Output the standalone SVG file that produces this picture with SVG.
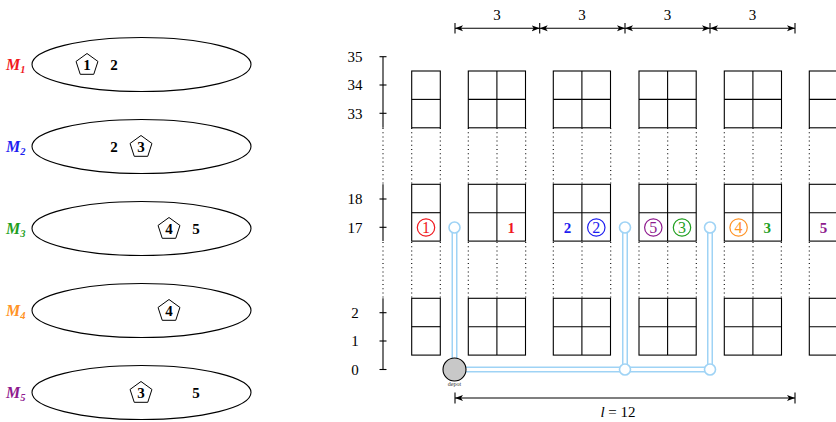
<svg xmlns="http://www.w3.org/2000/svg" width="836" height="422" viewBox="0 0 836 422">
<style>
.e{fill:none;stroke:#000;stroke-width:1.1}
.pg{fill:#fff;stroke:#000;stroke-width:1}
.n{font-family:"Liberation Serif","DejaVu Serif",serif;font-size:15px;font-weight:bold;text-anchor:middle}
.ax{font-family:"Liberation Serif","DejaVu Serif",serif;font-size:15px;text-anchor:middle}
.m{font-family:"Liberation Serif","DejaVu Serif",serif;font-size:16px;font-weight:bold;font-style:italic}
.cell{fill:#fff;stroke:#000;stroke-width:1.1}
.dot{stroke:#000;stroke-width:1.1;stroke-dasharray:1 3.2;fill:none}
.ln{stroke:#000;stroke-width:1.1;fill:none}
.pO{stroke:#9fd3f5;stroke-width:6;fill:none}
.pI{stroke:#fff;stroke-width:3;fill:none}
.ec{fill:#fff;stroke:#9fd3f5;stroke-width:1.6}
.cn{font-family:"Liberation Serif","DejaVu Serif",serif;font-size:16px;text-anchor:middle}
.red{fill:#f0181e;stroke:#f0181e}
.blue{fill:#1e1ef0;stroke:#1e1ef0}
.green{fill:#1f9f1f;stroke:#1f9f1f}
.orange{fill:#ff9326;stroke:#ff9326}
.purple{fill:#8e1a8e;stroke:#8e1a8e}
text.red,text.blue,text.green,text.orange,text.purple{stroke:none}
circle.cc{fill:none;stroke-width:1.2}
</style>
<defs>
<marker id="ar" viewBox="0 0 8 8" refX="8" refY="4" markerWidth="8" markerHeight="8" markerUnits="userSpaceOnUse" orient="auto-start-reverse">
<path d="M0,1 L8,4 L0,7 L2,4 Z" fill="#000"/>
</marker>
<polygon id="pent" points="0,-11.5 10.94,-3.55 6.76,9.3 -6.76,9.3 -10.94,-3.55"/>
<g id="r1">
<rect x="0" y="0" width="28.6" height="56.8" class="cell"/>
<line x1="0" y1="28.4" x2="28.6" y2="28.4" class="ln"/>
</g>
<g id="r2">
<rect x="0" y="0" width="57.2" height="56.8" class="cell"/>
<line x1="0" y1="28.4" x2="57.2" y2="28.4" class="ln"/>
<line x1="28.6" y1="0" x2="28.6" y2="56.8" class="ln" stroke-width="1.5"/>
</g>
</defs>

<!-- Left: sets M1..M5 -->
<g id="M1">
<ellipse cx="141.5" cy="64.5" rx="109.5" ry="27" class="e"/>
<text x="6" y="69.5" class="m red">M<tspan font-size="10.5" dy="3">1</tspan></text>
<use href="#pent" x="87" y="65" class="pg"/>
<text x="87" y="70" class="n">1</text>
<text x="114" y="70" class="n">2</text>
</g>
<g id="M2">
<ellipse cx="141.5" cy="146.5" rx="109.5" ry="27" class="e"/>
<text x="6" y="151.5" class="m blue">M<tspan font-size="10.5" dy="3">2</tspan></text>
<text x="114" y="152" class="n">2</text>
<use href="#pent" x="141" y="147" class="pg"/>
<text x="141" y="152" class="n">3</text>
</g>
<g id="M3">
<ellipse cx="141.5" cy="228.5" rx="109.5" ry="27" class="e"/>
<text x="6" y="233.5" class="m green">M<tspan font-size="10.5" dy="3">3</tspan></text>
<use href="#pent" x="169" y="229" class="pg"/>
<text x="169" y="234" class="n">4</text>
<text x="196" y="234" class="n">5</text>
</g>
<g id="M4">
<ellipse cx="141.5" cy="310.5" rx="109.5" ry="27" class="e"/>
<text x="6" y="315.5" class="m orange">M<tspan font-size="10.5" dy="3">4</tspan></text>
<use href="#pent" x="169" y="311" class="pg"/>
<text x="169" y="316" class="n">4</text>
</g>
<g id="M5">
<ellipse cx="141.5" cy="392.5" rx="109.5" ry="27" class="e"/>
<text x="6" y="397.5" class="m purple">M<tspan font-size="10.5" dy="3">5</tspan></text>
<use href="#pent" x="141" y="393" class="pg"/>
<text x="141" y="398" class="n">3</text>
<text x="196" y="398" class="n">5</text>
</g>

<!-- Axis -->
<g id="axis">
<line x1="383" y1="56.7" x2="383" y2="127.7" class="ln"/>
<line x1="383" y1="184.3" x2="383" y2="241" class="ln"/>
<line x1="383" y1="298.3" x2="383" y2="369.5" class="ln"/>
<g class="ln">
<line x1="379.5" y1="56.7" x2="386.5" y2="56.7"/>
<line x1="379.5" y1="85" x2="386.5" y2="85"/>
<line x1="379.5" y1="113.3" x2="386.5" y2="113.3"/>
<line x1="379.5" y1="199" x2="386.5" y2="199"/>
<line x1="379.5" y1="227.3" x2="386.5" y2="227.3"/>
<line x1="379.5" y1="312.7" x2="386.5" y2="312.7"/>
<line x1="379.5" y1="341" x2="386.5" y2="341"/>
<line x1="379.5" y1="369.5" x2="386.5" y2="369.5"/>
</g>
<text x="355" y="62" class="ax">35</text>
<text x="355" y="90" class="ax">34</text>
<text x="355" y="118.5" class="ax">33</text>
<text x="355" y="204" class="ax">18</text>
<text x="355" y="232.5" class="ax">17</text>
<text x="355" y="318" class="ax">2</text>
<text x="355" y="346" class="ax">1</text>
<text x="355" y="375" class="ax">0</text>
</g>

<!-- Dotted continuation lines -->
<g id="dots" class="dot">
<path d="M383,128V184 M411.7,128V184 M440.3,128V184 M468.3,128V184 M497,128V184 M525.7,128V184 M553.3,128V184 M582,128V184 M610.7,128V184 M639,128V184 M667.7,128V184 M696.3,128V184 M724.3,128V184 M753,128V184 M781.3,128V184 M809.3,128V184"/>
<path d="M383,242V298 M411.7,242V298 M440.3,242V298 M468.3,242V298 M497,242V298 M525.7,242V298 M553.3,242V298 M582,242V298 M610.7,242V298 M639,242V298 M667.7,242V298 M696.3,242V298 M724.3,242V298 M753,242V298 M781.3,242V298 M809.3,242V298"/>
</g>

<!-- Racks -->
<g id="racks">
<use href="#r1" x="411.7" y="71"/>
<use href="#r1" x="411.7" y="184.3"/>
<use href="#r1" x="411.7" y="298.3"/>
<use href="#r2" x="468.3" y="71"/>
<use href="#r2" x="468.3" y="184.3"/>
<use href="#r2" x="468.3" y="298.3"/>
<use href="#r2" x="553.3" y="71"/>
<use href="#r2" x="553.3" y="184.3"/>
<use href="#r2" x="553.3" y="298.3"/>
<use href="#r2" x="639" y="71"/>
<use href="#r2" x="639" y="184.3"/>
<use href="#r2" x="639" y="298.3"/>
<use href="#r2" x="724.3" y="71"/>
<use href="#r2" x="724.3" y="184.3"/>
<use href="#r2" x="724.3" y="298.3"/>
<use href="#r2" x="809.3" y="71"/>
<use href="#r2" x="809.3" y="184.3"/>
<use href="#r2" x="809.3" y="298.3"/>
</g>

<!-- Route connectors -->
<g id="connectors">
<path d="M454.5,227.5V369.5H710M625,369.5V227.5M710,369.5V227.5" class="pO"/>
<path d="M454.5,227.5V369.5H710M625,369.5V227.5M710,369.5V227.5" class="pI"/>
<circle cx="454.5" cy="227.5" r="5.5" class="ec"/>
<circle cx="625" cy="227.5" r="5.5" class="ec"/>
<circle cx="710" cy="227.5" r="5.5" class="ec"/>
<circle cx="625" cy="369.5" r="5.5" class="ec"/>
<circle cx="710" cy="369.5" r="5.5" class="ec"/>
</g>

<g id="depot">
<circle cx="454.5" cy="369.5" r="11.5" fill="#c8c8c8" stroke="#000" stroke-width="1.1"/>
<text x="454.5" y="386" font-family="Liberation Serif,DejaVu Serif,serif" font-size="6" text-anchor="middle" fill="#333">depot</text>
</g>

<!-- Item labels in row 17 -->
<g id="items">
<circle cx="426" cy="227.5" r="8.7" class="cc red"/>
<text x="426" y="233" class="cn red">1</text>
<text x="511.3" y="233" class="n red">1</text>
<text x="567.6" y="233" class="n blue">2</text>
<circle cx="596.3" cy="227.5" r="8.7" class="cc blue"/>
<text x="596.3" y="233" class="cn blue">2</text>
<circle cx="653.3" cy="227.5" r="8.7" class="cc purple"/>
<text x="653.3" y="233" class="cn purple">5</text>
<circle cx="682" cy="227.5" r="8.7" class="cc green"/>
<text x="682" y="233" class="cn green">3</text>
<circle cx="738.6" cy="227.5" r="8.7" class="cc orange"/>
<text x="738.6" y="233" class="cn orange">4</text>
<text x="767.3" y="233" class="n green">3</text>
<text x="823.6" y="233" class="n purple">5</text>
</g>

<!-- Dimensions -->
<g id="dims">
<g class="ln">
<line x1="455" y1="28.3" x2="539.7" y2="28.3" marker-start="url(#ar)" marker-end="url(#ar)"/>
<line x1="539.7" y1="28.3" x2="625" y2="28.3" marker-start="url(#ar)" marker-end="url(#ar)"/>
<line x1="625" y1="28.3" x2="710" y2="28.3" marker-start="url(#ar)" marker-end="url(#ar)"/>
<line x1="710" y1="28.3" x2="795" y2="28.3" marker-start="url(#ar)" marker-end="url(#ar)"/>
<line x1="455" y1="23" x2="455" y2="33.5"/>
<line x1="539.7" y1="23" x2="539.7" y2="33.5"/>
<line x1="625" y1="23" x2="625" y2="33.5"/>
<line x1="710" y1="23" x2="710" y2="33.5"/>
<line x1="795" y1="23" x2="795" y2="33.5"/>
<line x1="455" y1="398" x2="795" y2="398" marker-start="url(#ar)" marker-end="url(#ar)"/>
<line x1="455" y1="392.5" x2="455" y2="403.5"/>
<line x1="795" y1="392.5" x2="795" y2="403.5"/>
</g>
<text x="497" y="19.5" class="ax">3</text>
<text x="582" y="19.5" class="ax">3</text>
<text x="667.5" y="19.5" class="ax">3</text>
<text x="752.5" y="19.5" class="ax">3</text>
<text x="618" y="417" class="ax"><tspan font-style="italic">l</tspan> = 12</text>
</g>
</svg>
